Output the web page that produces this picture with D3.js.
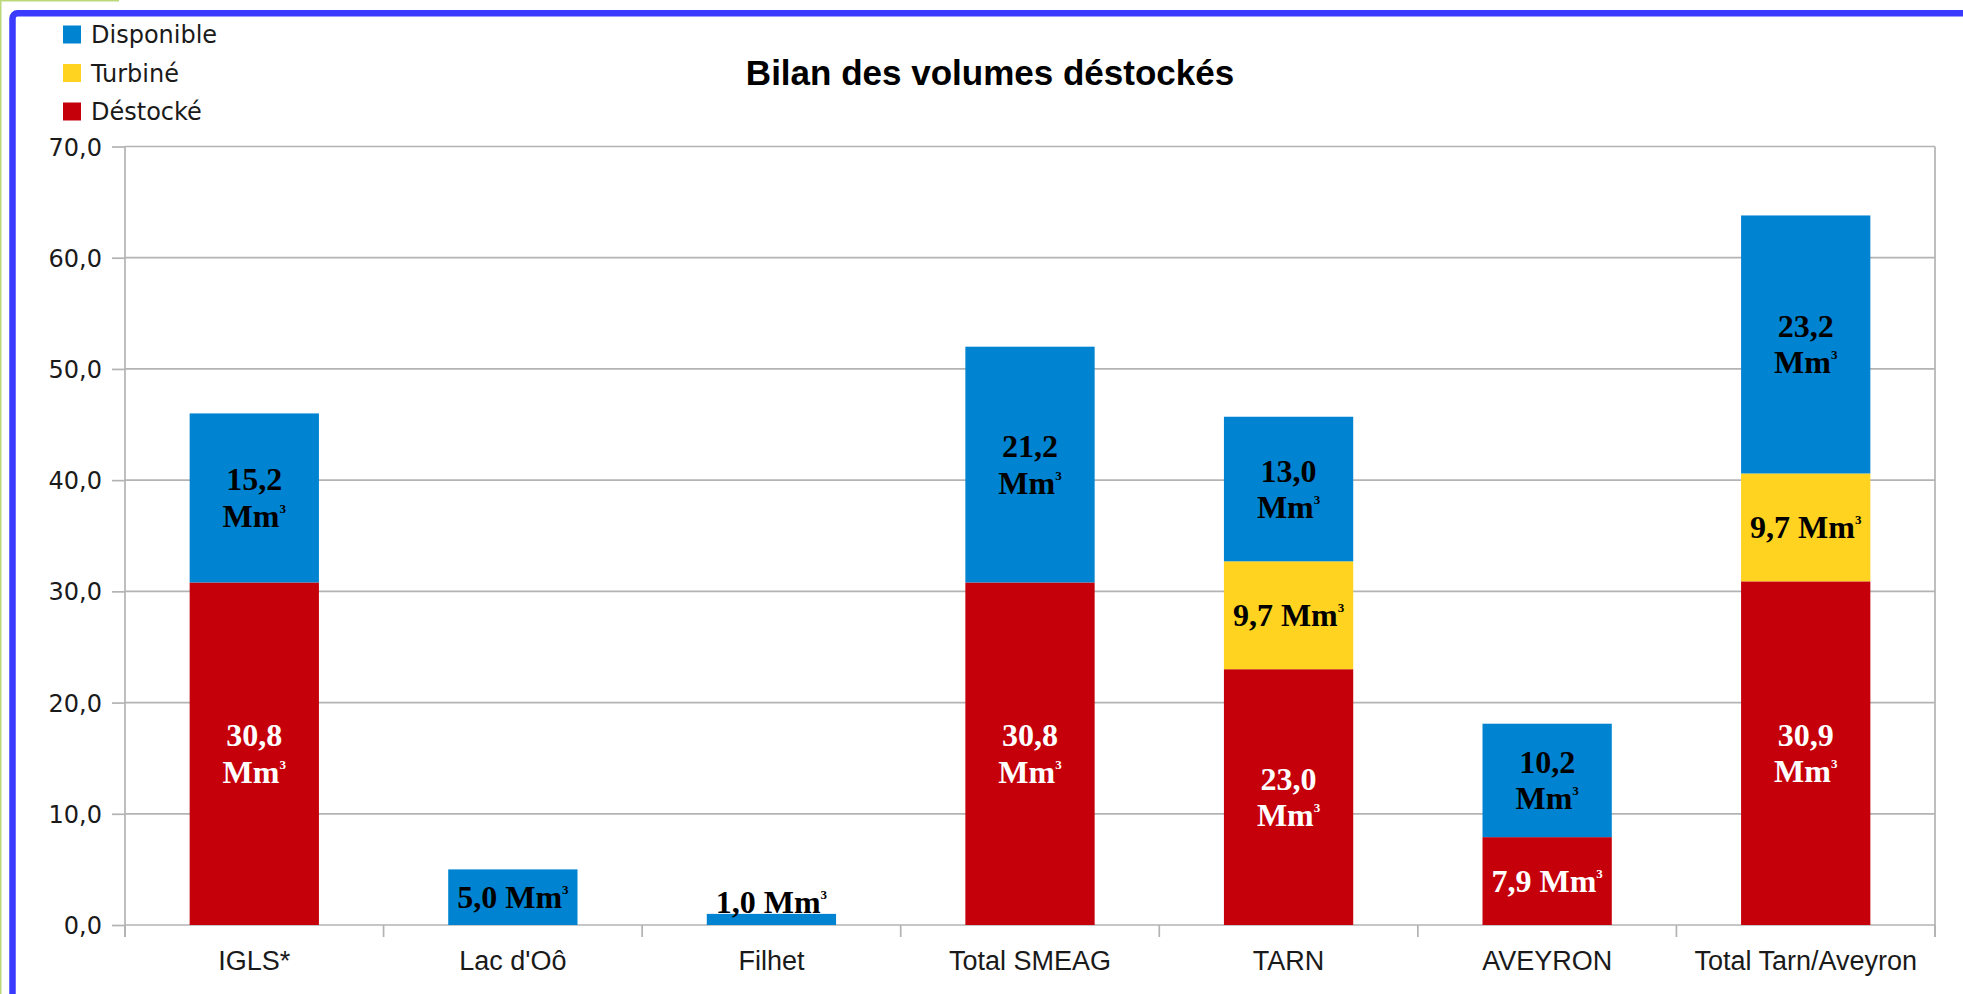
<!DOCTYPE html>
<html>
<head>
<meta charset="utf-8">
<script src="https://cdn.jsdelivr.net/npm/d3@7/dist/d3.min.js"></script>
<style>
  html, body { margin: 0; padding: 0; background: #ffffff; }
  svg { display: block; }
</style>
</head>
<body>
<svg id="chart" width="1963" height="994"></svg>
<script>
// ---- Data ----
const categories = ["IGLS*", "Lac d'Oô", "Filhet", "Total SMEAG", "TARN", "AVEYRON", "Total Tarn/Aveyron"];
const destocke   = [30.8, 0, 0, 30.8, 23.0, 7.9, 30.9];
const turbine    = [0, 0, 0, 0, 9.7, 0, 9.7];
const disponible = [15.2, 5.0, 1.0, 21.2, 13.0, 10.2, 23.2];
const seriesKeys  = ["destocke", "turbine", "disponible"];
const seriesNames = ["Déstocké", "Turbiné", "Disponible"];
const legendOrder = ["disponible", "turbine", "destocke"];
const yTicks = [0, 10, 20, 30, 40, 50, 60, 70];
const title = "Bilan des volumes déstockés";
const unit = "Mm";
const unitSup = "3";

// ---- Styles ----
const colors = { destocke: "#c5000b", turbine: "#ffd320", disponible: "#0084d1" };
const labelColors = { destocke: "#ffffff", turbine: "#000000", disponible: "#000000" };
const gridColor = "#b3b3b3";

const rows = categories.map((c, i) => ({
  cat: c, destocke: destocke[i], turbine: turbine[i], disponible: disponible[i]
}));

const svg = d3.select("#chart");

// Frames
svg.append("line").attr("x1", 0.75).attr("x2", 0.75).attr("y1", 0).attr("y2", 994)
  .attr("stroke", "#bcd97a").attr("stroke-width", 1.5);
svg.append("line").attr("x1", 0).attr("x2", 119).attr("y1", 0.75).attr("y2", 0.75)
  .attr("stroke", "#bcd97a").attr("stroke-width", 1.5);
svg.append("rect").attr("x", 12.5).attr("y", 13.3).attr("width", 2000).attr("height", 1100)
  .attr("rx", 5).attr("fill", "none").attr("stroke", "#3b3bff").attr("stroke-width", 6.5);

// Scales
const plotL = 125, plotR = 1935, yBottom = 925, yTop = 146.5;
const x = d3.scaleBand().domain(categories).range([plotL, plotR]).paddingInner(0.5).paddingOuter(0.25);
const xOuter = d3.scaleBand().domain(categories).range([plotL, plotR]).padding(0);
const y = d3.scaleLinear().domain([0, 70]).range([yBottom, yTop]);

// Gridlines
svg.append("g").selectAll("line").data(yTicks).join("line")
  .attr("x1", plotL).attr("x2", plotR)
  .attr("y1", d => y(d)).attr("y2", d => y(d))
  .attr("stroke", gridColor).attr("stroke-width", 1.7);

// Y axis
const fmt = d => d3.format(".1f")(d).replace(".", ",");
const yAxis = svg.append("g").attr("transform", `translate(${plotL},0)`)
  .call(d3.axisLeft(y).tickValues(yTicks).tickFormat(fmt).tickSize(13).tickPadding(10));
yAxis.select(".domain").remove();
yAxis.selectAll(".tick line").attr("stroke", gridColor).attr("stroke-width", 1.7);
yAxis.selectAll(".tick text").attr("font-family", "DejaVu Sans").attr("font-size", 24)
  .attr("fill", "#1a1a1a").attr("dy", "0.36em");

// Vertical frame lines
[plotL, plotR].forEach(xx => {
  svg.append("line").attr("x1", xx).attr("x2", xx).attr("y1", yTop).attr("y2", yBottom + 12)
    .attr("stroke", gridColor).attr("stroke-width", 1.7);
});

// X axis ticks at category boundaries
const boundaries = categories.map(c => xOuter(c)).concat([plotR]);
svg.append("g").selectAll("line").data(boundaries).join("line")
  .attr("x1", d => d).attr("x2", d => d).attr("y1", yBottom).attr("y2", yBottom + 12)
  .attr("stroke", gridColor).attr("stroke-width", 1.7);

// X labels
svg.append("g").selectAll("text").data(categories).join("text")
  .attr("x", d => x(d) + x.bandwidth() / 2).attr("y", 970)
  .attr("text-anchor", "middle").attr("font-family", "Liberation Sans").attr("font-size", 27)
  .attr("fill", "#1a1a1a").text(d => d);

// Stacked bars
const stack = d3.stack().keys(seriesKeys)(rows);
const layers = svg.append("g").selectAll("g").data(stack).join("g")
  .attr("fill", d => colors[d.key]);
layers.selectAll("rect").data(d => d.filter(s => s[1] - s[0] > 0)).join("rect")
  .attr("x", d => x(d.data.cat)).attr("width", x.bandwidth())
  .attr("y", d => y(d[1])).attr("height", d => y(d[0]) - y(d[1]));

// Data labels
const labelG = svg.append("g");
stack.forEach(layer => {
  layer.forEach(seg => {
    const v = seg[1] - seg[0];
    if (v <= 0) return;
    const cx = x(seg.data.cat) + x.bandwidth() / 2;
    const top = y(seg[1]), bot = y(seg[0]);
    const center = (top + bot) / 2;
    const valStr = fmt(v);
    const t = labelG.append("text").attr("text-anchor", "middle")
      .attr("font-family", "Liberation Serif").attr("font-weight", "bold").attr("font-size", 32)
      .attr("fill", labelColors[layer.key]);
    // try single line
    t.append("tspan").text(valStr + " " + unit);
    t.append("tspan").attr("font-size", 13).attr("dy", -14).text(unitSup);
    const w = t.node().getComputedTextLength();
    if (w > x.bandwidth() - 8) {
      t.selectAll("tspan").remove();
      t.append("tspan").attr("x", cx).attr("y", center - 7.5).text(valStr);
      const l2 = labelG.append("text").attr("text-anchor", "middle")
        .attr("font-family", "Liberation Serif").attr("font-weight", "bold").attr("font-size", 32)
        .attr("fill", labelColors[layer.key]).attr("x", cx).attr("y", center + 29);
      l2.append("tspan").text(unit);
      l2.append("tspan").attr("font-size", 13).attr("dy", -14).text(unitSup);
    } else {
      const h = bot - top;
      const baseY = h < 26 ? top - 1 : center + 11;
      t.attr("x", cx).attr("y", baseY);
    }
  });
});

// Title
svg.append("text").attr("x", 990).attr("y", 85).attr("text-anchor", "middle")
  .attr("font-family", "Liberation Sans").attr("font-weight", "bold").attr("font-size", 35)
  .attr("fill", "#000").text(title);

// Legend
const legend = svg.append("g").selectAll("g").data(legendOrder).join("g")
  .attr("transform", (d, i) => `translate(63, ${34.5 + i * 38.5})`);
legend.append("rect").attr("x", 0).attr("y", -9).attr("width", 18).attr("height", 18)
  .attr("fill", d => colors[d]);
legend.append("text").attr("x", 28).attr("y", 8.5)
  .attr("font-family", "DejaVu Sans").attr("font-size", 24).attr("fill", "#1a1a1a")
  .text(d => seriesNames[seriesKeys.indexOf(d)]);
</script>
</body>
</html>
